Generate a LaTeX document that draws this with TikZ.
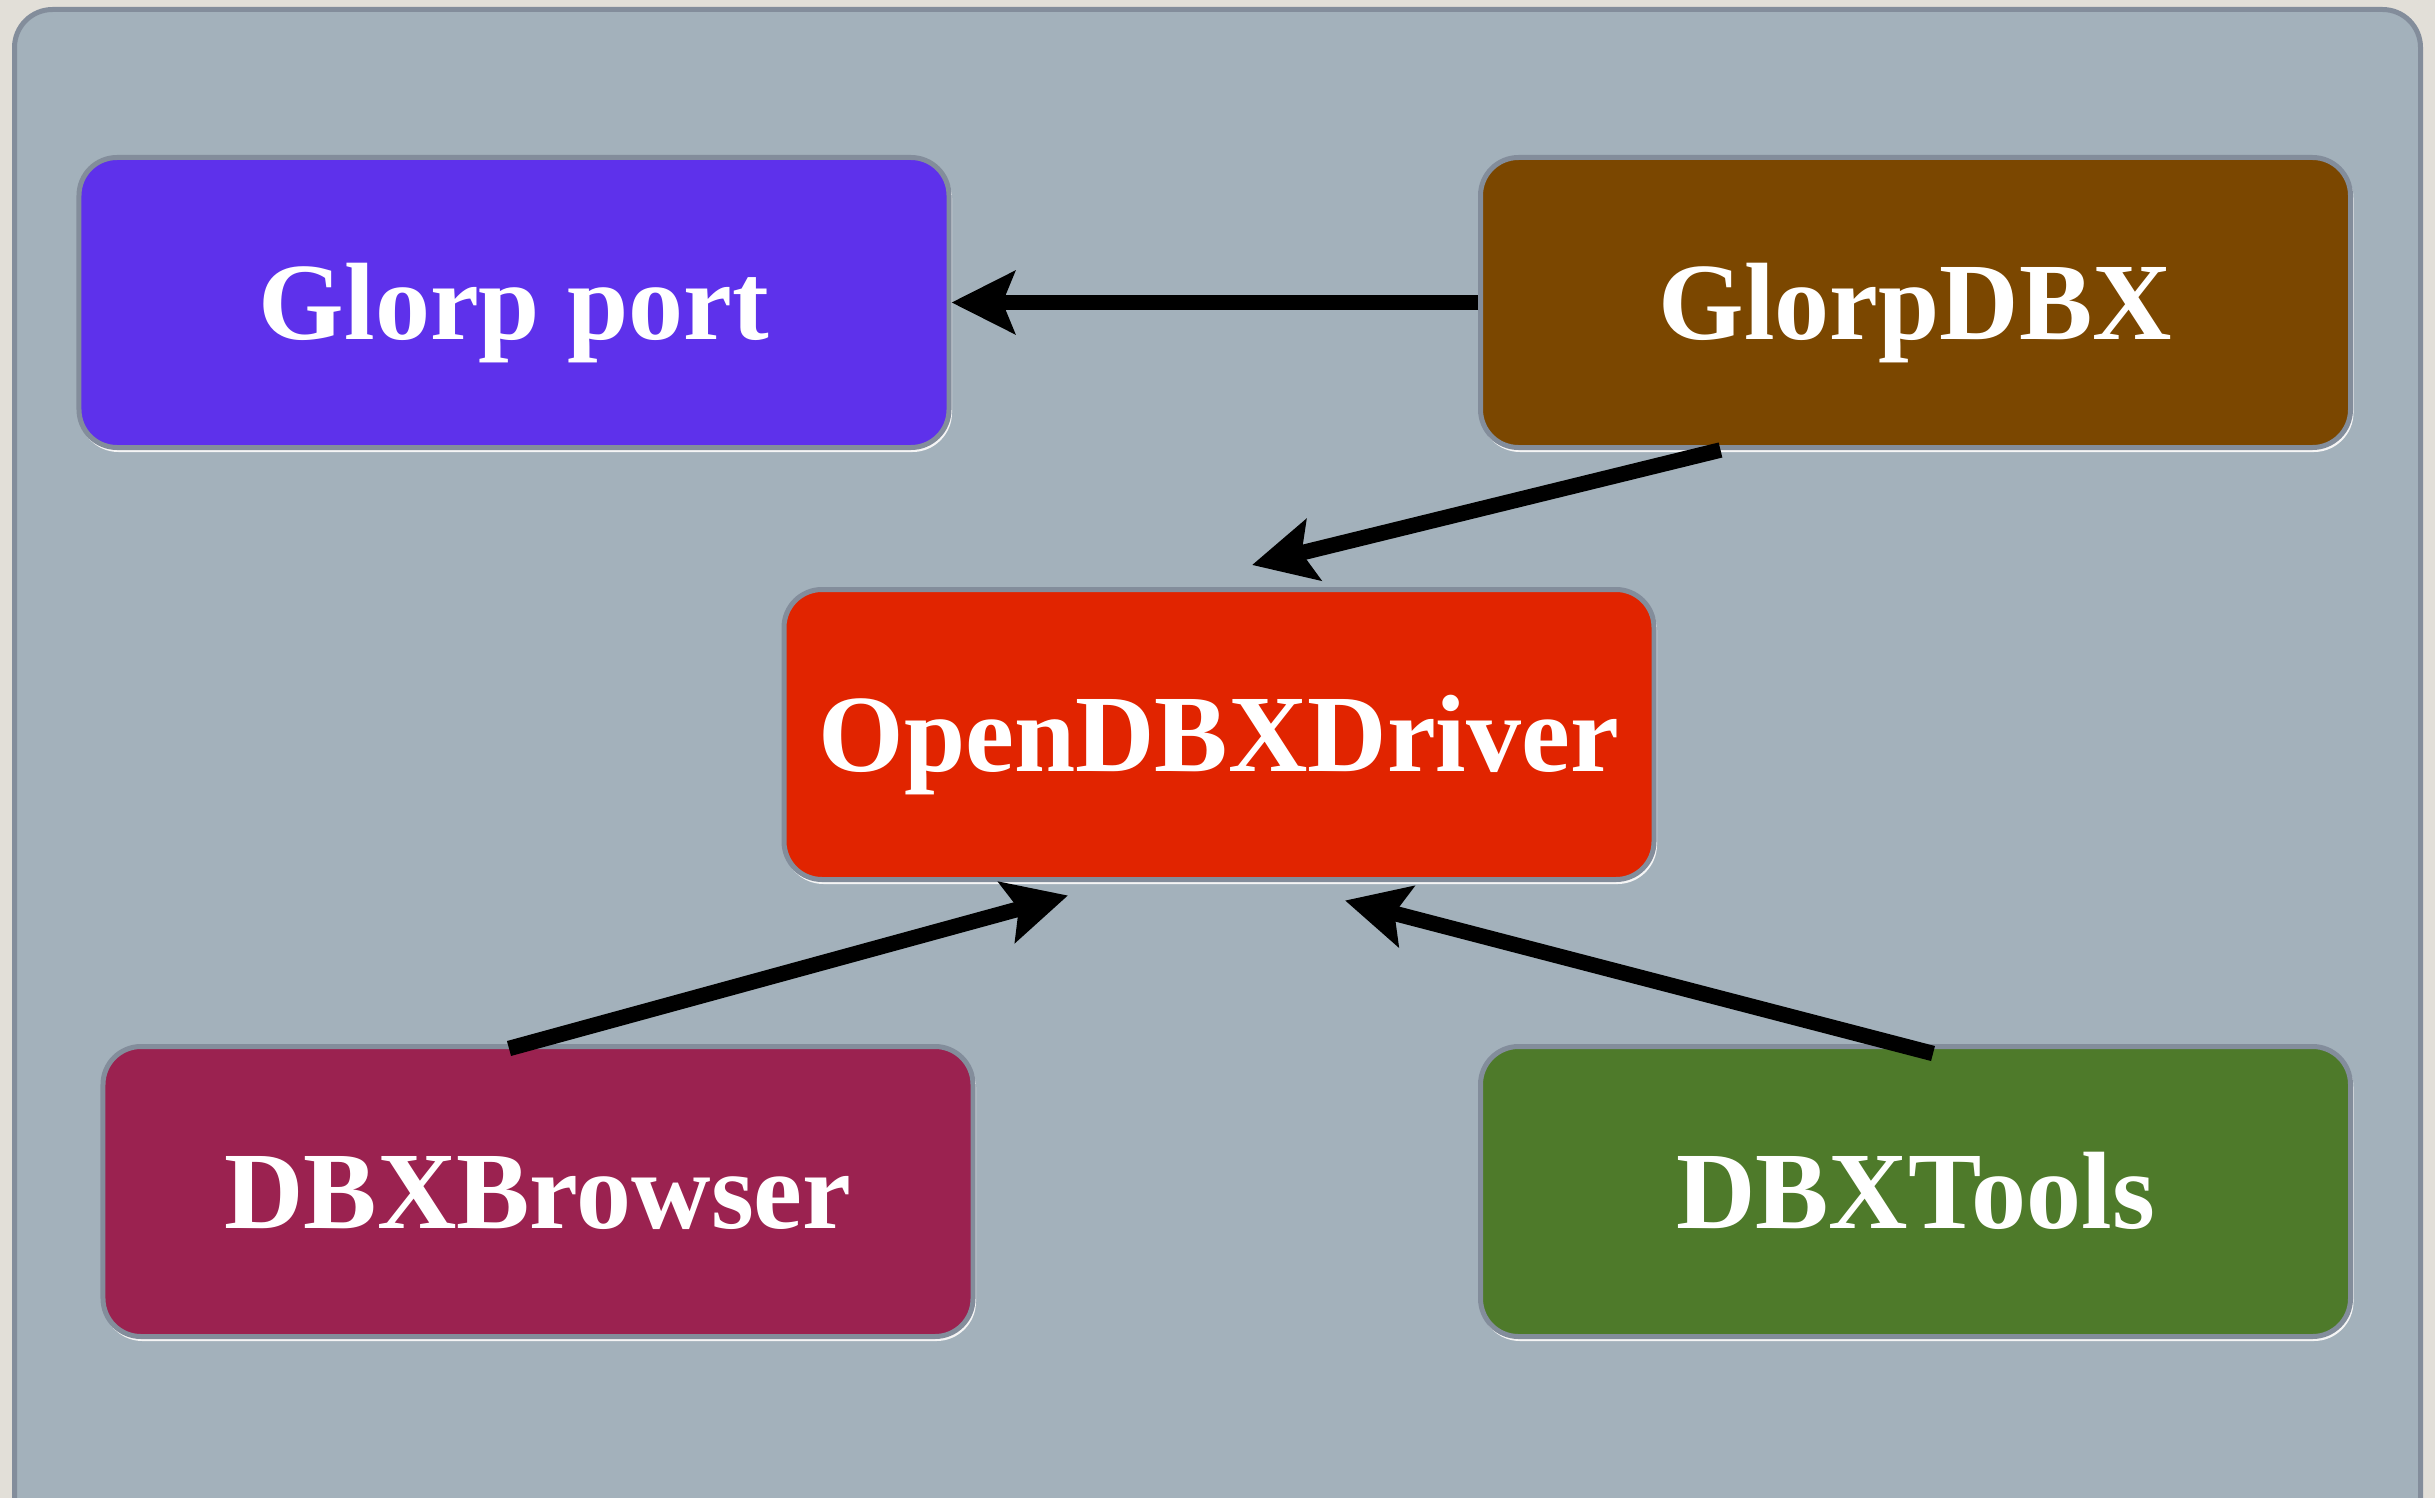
\documentclass[tikz,border=0pt]{standalone}
\usepackage{fontspec}
\setmainfont{Liberation Serif}
\usetikzlibrary{arrows.meta,calc}
\definecolor{pagebg}{HTML}{E2DFD8}
\definecolor{panelbg}{HTML}{A3B1BB}
\definecolor{edgegray}{HTML}{838D9B}
\definecolor{cpurple}{HTML}{5E31EB}
\definecolor{cbrown}{HTML}{7B4700}
\definecolor{cred}{HTML}{E12400}
\definecolor{cwine}{HTML}{9B2250}
\definecolor{cgreen}{HTML}{4E7A2A}
\tikzset{
  box/.style={draw=edgegray, line width=5bp, rounded corners=38bp,
    minimum width=870bp, minimum height=290bp, inner sep=0pt,
    text height=73bp, text depth=0pt, text=white,
    font=\fontsize{110bp}{130bp}\selectfont\bfseries,
    preaction={draw=white!92!gray, line width=3bp,
      transform canvas={xshift=1.5bp, yshift=-3bp}}},
  link/.style={line width=15.5bp, draw=black,
    -{Stealth[length=63bp, width=62bp, inset=12bp]}}
}
\begin{document}
\begin{tikzpicture}[x=1bp, y=-1bp]
\useasboundingbox (0,0) rectangle (2435,1498);
\fill[pagebg] (0,0) rectangle (2435,1498);
\draw[fill=panelbg, draw=edgegray, line width=5bp, rounded corners=38bp]
  (14.5,9.5) rectangle (2420.5,1540);
\node[box, fill=cpurple] (gp)   at (514,302.5)   {Glorp port};
\node[box, fill=cbrown]  (gdbx) at (1915.5,302.5) {GlorpDBX};
\node[box, fill=cred]    (odbx) at (1219,734.5)  {OpenDBXDriver};
\node[box, fill=cwine]   (dbxb) at (538,1191.5)  {DBXBrowser};
\node[box, fill=cgreen]  (dbxt) at (1915.5,1191.5) {DBXTools};
\draw[link] (gdbx.west) -- (gp.east);
\draw[link] ([xshift=-195bp]gdbx.south) -- ([xshift=33bp,yshift=22bp]odbx.north);
\draw[link] ([xshift=-29bp,yshift=-4.5bp]dbxb.north) -- ([xshift=-151bp,yshift=-13.5bp]odbx.south);
\draw[link] ([xshift=17.5bp,yshift=-9.5bp]dbxt.north) -- ([xshift=126bp,yshift=-18.5bp]odbx.south);
\end{tikzpicture}
\end{document}
